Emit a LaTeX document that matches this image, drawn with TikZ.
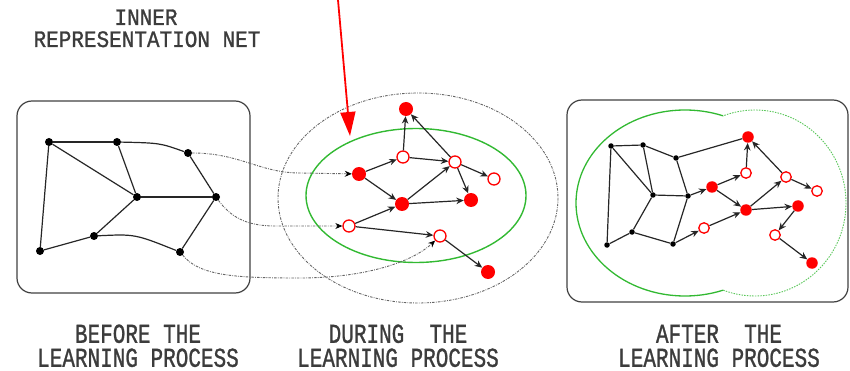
\documentclass[tikz,border=0pt]{standalone}
\usepackage{fontspec}
\newfontfamily\lblfont[FakeBold=1.2]{Liberation Mono}
\usetikzlibrary{arrows.meta}
\definecolor{grn}{RGB}{50,185,50}
\definecolor{txt}{RGB}{60,60,60}
\newcommand{\tallb}[1]{\scalebox{1}[1.3]{#1}}
\newcommand{\tallt}[1]{\scalebox{1}[1.12]{#1}}
\begin{document}
\begin{tikzpicture}[x=1pt,y=-1pt,
  bdot/.style={circle,fill=black,inner sep=0pt,minimum size=8pt},
  sdot/.style={circle,fill=black,inner sep=0pt,minimum size=5.5pt},
  rf/.style={circle,fill=red,inner sep=0pt,minimum size=14pt},
  ro/.style={circle,draw=red,fill=white,line width=1.3pt,inner sep=0pt,minimum size=12pt},
  rfs/.style={rf,minimum size=11.5pt},
  ros/.style={ro,minimum size=10.5pt},
  edge/.style={line width=1.2pt,draw=black!85},
  arr/.style={edge,-{Stealth[length=7.5pt,width=6.5pt]}},
  dl/.style={draw=black!60,line width=0.9pt,dash pattern=on 2.5pt off 1.2pt on 0.8pt off 1.2pt},
  dla/.style={dl,-{Stealth[length=7pt,width=6pt,black]}},
  box/.style={draw=black!75,line width=1.2pt,rounded corners=15pt},
  lbl/.style={font=\fontsize{21}{24}\selectfont\lblfont,text=txt,inner sep=0pt,anchor=base,text height=14pt,text depth=0pt},
  caplbl/.style={font=\fontsize{21}{24}\selectfont\lblfont,text=txt,inner sep=0pt,align=center,anchor=south,text depth=0pt},
]
\useasboundingbox (0,0) rectangle (850,371);

% titles
\node[lbl] (t1) at (146,25) {\tallt{INNER}};
\node[lbl] (t2) at (147,47) {\tallt{REPRESENTATION NET}};
\node[caplbl] (b) at (138,367) {\tallb{BEFORE THE}\\\tallb{LEARNING PROCESS}};
\node[caplbl] (d) at (398,367) {\tallb{DURING\ \ THE}\\\tallb{LEARNING PROCESS}};
\node[caplbl] (a) at (719,367) {\tallb{AFTER\ \ THE}\\\tallb{LEARNING PROCESS}};

% boxes
\draw[box] (17,101) rectangle (250,293);
\draw[box] (567,100) rectangle (848,302);

% middle ellipses
\draw[dl] (418,198) ellipse [x radius=140, y radius=105];
\draw[grn,line width=1.4pt] (416,195.5) ellipse [x radius=110, y radius=67];

% right green outline
\begin{scope}
  \clip (560,90) rectangle (723,310);
  \draw[grn,line width=1.3pt] (685,203) ellipse [x radius=109, y radius=93];
\end{scope}
\begin{scope}
  \clip (723,90) rectangle (860,310);
  \draw[grn!80,line width=0.9pt,dash pattern=on 1.5pt off 1.2pt] (755,203) ellipse [x radius=91, y radius=93];
\end{scope}

% left net
\node[bdot] (A) at (49,142) {};
\node[bdot] (B) at (117,142) {};
\node[bdot] (C) at (188,153) {};
\node[bdot] (D) at (137,197) {};
\node[bdot] (E) at (216,197) {};
\node[bdot] (F) at (94,236) {};
\node[bdot] (G) at (40,251) {};
\node[bdot] (H) at (180,252) {};
\draw[edge] (A) -- (B);
\draw[edge] (B) .. controls (160,143) .. (C);
\draw[edge] (A) -- (D);
\draw[edge] (B) -- (D);
\draw[edge] (C) -- (E);
\draw[edge] (D) -- (E);
\draw[edge] (D) -- (F);
\draw[edge] (A) -- (G);
\draw[edge] (G) -- (F);
\draw[edge] (F) .. controls (135,234) .. (H);
\draw[edge] (H) -- (E);

% middle net
\node[rf] (m1) at (406,109) {};
\node[ro] (m2) at (403,157) {};
\node[ro] (m3) at (455,162) {};
\node[ro] (m4) at (494,179) {};
\node[rf] (m5) at (359,174) {};
\node[rf] (m6) at (402,204) {};
\node[rf] (m7) at (471,200) {};
\node[ro] (m8) at (349,226) {};
\node[ro] (m9) at (440,236) {};
\node[rf] (m10) at (488,272) {};
\draw[arr] (m2) -- (m1);
\draw[arr] (m3) -- (m1);
\draw[arr] (m5) -- (m2);
\draw[arr] (m2) -- (m3);
\draw[arr] (m6) -- (m3);
\draw[arr] (m3) -- (m4);
\draw[arr] (m3) -- (m7);
\draw[arr] (m5) -- (m6);
\draw[arr] (m6) -- (m7);
\draw[arr] (m8) -- (m6);
\draw[arr] (m8) -- (m9);
\draw[arr] (m9) -- (m10);

% dotted connectors left -> middle
\draw[dla] (C) .. controls (240,153) and (260,173) .. (300,173) -- (m5);
\draw[dla] (E) .. controls (230,216) and (245,226) .. (275,226) -- (m8);
\draw[dla] (H) .. controls (200,276) and (235,278) .. (300,278) .. controls (360,278) and (410,264) .. (m9);

% red arrow
\coordinate (rtop) at (338,0);
\coordinate (rtip) at (350,136);
\draw[red,line width=1.8pt,-{Triangle[length=24pt,width=15pt]}] (rtop) -- (rtip);

% right net: black part
\node[sdot] (r1) at (611,146) {};
\node[sdot] (r2) at (643,145) {};
\node[sdot] (r3) at (676,158) {};
\node[sdot] (r4) at (653,195) {};
\node[sdot] (r5) at (688,196) {};
\node[sdot] (r6) at (632,232) {};
\node[sdot] (r7) at (607,245) {};
\node[sdot] (r8) at (673,244) {};
% right net: red part
\node[rfs] (R1) at (748,137) {};
\node[ros] (R2) at (746,173) {};
\node[rfs] (R3) at (712,187) {};
\node[ros] (R4) at (786,177) {};
\node[ros] (R5) at (817,191) {};
\node[rfs] (R6) at (746,210) {};
\node[rfs] (R7) at (798,206) {};
\node[ros] (R8) at (704,228) {};
\node[ros] (R9) at (775,235) {};
\node[rfs] (R10) at (812,263) {};

\draw[edge] (r1) -- (r2);
\draw[edge] (r2) -- (r3);
\draw[edge] (r1) -- (r4);
\draw[edge] (r2) -- (r4);
\draw[edge] (r3) -- (r5);
\draw[edge] (r4) -- (r5);
\draw[edge] (r4) -- (r6);
\draw[edge] (r1) -- (r7);
\draw[edge] (r7) -- (r6);
\draw[edge] (r6) -- (r8);
\draw[edge] (r8) -- (r5);
\draw[edge] (r3) -- (R1);
\draw[arr] (r5) -- (R3);
\draw[arr] (r8) -- (R8);
\draw[arr] (R2) -- (R1);
\draw[arr] (R4) -- (R1);
\draw[arr] (R3) -- (R2);
\draw[arr] (R3) -- (R6);
\draw[arr] (R6) -- (R4);
\draw[arr] (R4) -- (R5);
\draw[arr] (R6) -- (R7);
\draw[arr] (R7) -- (R9);
\draw[arr] (R9) -- (R10);
\draw[arr] (R8) -- (R6);
\end{tikzpicture}
\end{document}
